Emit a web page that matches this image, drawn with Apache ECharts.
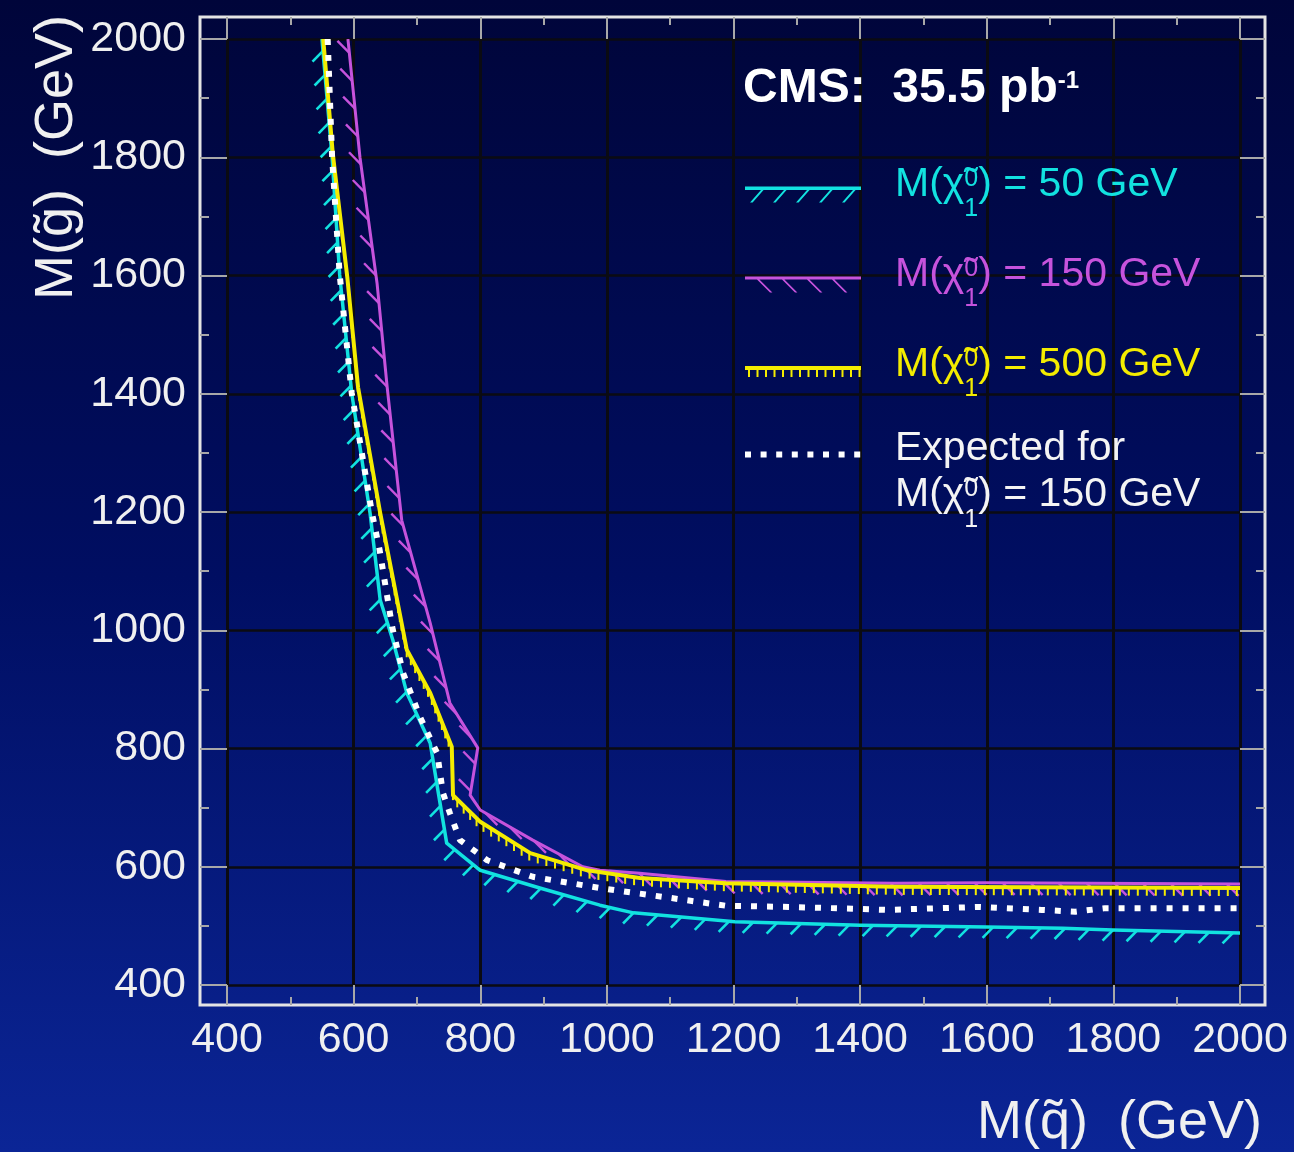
<!DOCTYPE html>
<html>
<head>
<meta charset="utf-8">
<title>CMS 35.5 pb-1 exclusion limits</title>
<script src="https://cdn.jsdelivr.net/npm/echarts@6.0.0/dist/echarts.min.js"></script>
<style>
  html, body { margin: 0; padding: 0; background: #000a4a; }
  #chart { width: 1294px; height: 1152px; }
</style>
</head>
<body>
<div id="chart"></div>
<script>
// observed limit, M(chi) = 50 GeV  (x = M(squark), y = M(gluino), GeV)
var m50X = [550, 566, 578, 597, 626, 642, 662, 684, 721, 733, 747, 800, 894, 989, 1042, 1202, 1401, 1600, 1720, 1799, 2000];
var m50Y = [2000, 1800, 1601, 1401, 1198, 1051, 983, 894, 809, 730, 640, 594, 564, 535, 522, 507, 501, 498, 496, 493, 488];

// observed limit, M(chi) = 150 GeV
var m150X = [591, 610, 637, 653, 676, 721, 752, 796, 784, 800, 883, 962, 989, 1052, 1188, 1454, 1600, 2000];
var m150Y = [2000, 1800, 1587, 1411, 1186, 1012, 877, 801, 721, 696, 645, 600, 594, 589, 575, 572, 573, 571];

// observed limit, M(chi) = 500 GeV
var m500X = [552, 567, 590, 607, 642, 684, 721, 755, 757, 800, 879, 969, 1052, 1188, 1454, 2000];
var m500Y = [2000, 1807, 1597, 1411, 1198, 967, 894, 803, 721, 676, 623, 594, 581, 572, 566, 564];

// expected limit for M(chi) = 150 GeV
var expX = [559, 566, 578, 597, 629, 641, 661, 678, 705, 732, 741, 752, 768, 811, 883, 989, 1089, 1188, 1288, 1388, 1441, 1588, 1687, 1740, 1787, 2000];
var expY = [2000, 1800, 1601, 1401, 1198, 1136, 1005, 928, 853, 792, 725, 691, 645, 611, 583, 564, 549, 534, 532, 529, 527, 532, 527, 524, 530, 530];

var curveNames = ['M(χ̃₁⁰) = 50 GeV', 'M(χ̃₁⁰) = 150 GeV', 'M(χ̃₁⁰) = 500 GeV', 'Expected for M(χ̃₁⁰) = 150 GeV'];
var curveMasses = ['50', '150', '500', '150'];

var axisMin = 400, axisMax = 2000, axisStep = 200;

var FONT = '"Liberation Sans", Arial, Helvetica, sans-serif';
var CYAN = '#12e2e0', MAGENTA = '#c653dc', YELLOW = '#f4ec00', WHITE = '#ffffff';
var TICK = '#a8a8a8', GRIDLINE = '#0b0b12', LABEL = '#f0f0f0';

function zip(xs, ys) {
  return xs.map(function (x, i) { return [x, ys[i]]; });
}

// line plus hatches on the excluded (lower-left) side, in pixel space
function hatchedCurve(name, xs, ys, st) {
  return {
    name: name,
    type: 'custom',
    xAxisIndex: 0,
    yAxisIndex: 0,
    clip: true,
    z: st.z,
    itemStyle: { color: st.color },
    encode: { x: 0, y: 1 },
    data: zip(xs, ys),
    renderItem: function (params, api) {
      if (params.dataIndex !== 0) return null;
      var pts = xs.map(function (x, i) { return api.coord([x, ys[i]]); });
      var kids = [];
      var carry = st.spacing * 0.5;
      for (var i = 0; i < pts.length - 1; i++) {
        var x0 = pts[i][0], y0 = pts[i][1];
        var len = Math.hypot(pts[i + 1][0] - x0, pts[i + 1][1] - y0);
        if (!len) continue;
        var dx = (pts[i + 1][0] - x0) / len, dy = (pts[i + 1][1] - y0) / len;
        var ux = st.dir[0], uy = st.dir[1];
        if (st.flip && ux * -dy + uy * dx < 0) { ux = -ux; uy = -uy; }
        var s = carry;
        while (s < len) {
          var px = x0 + dx * s, py = y0 + dy * s;
          kids.push({
            type: 'line',
            shape: { x1: px, y1: py, x2: px + ux * st.length, y2: py + uy * st.length },
            style: { stroke: st.color, lineWidth: st.hatchWidth }
          });
          s += st.spacing;
        }
        carry = s - len;
      }
      kids.push({
        type: 'polyline',
        shape: { points: pts },
        style: { stroke: st.color, lineWidth: st.width, fill: 'none', lineJoin: 'round' }
      });
      return { type: 'group', children: kids };
    }
  };
}

// legend icon pieces
function rect(x, y, w, h) {
  return 'M' + x + ',' + y + 'L' + (x + w) + ',' + y + 'L' + (x + w) + ',' + (y + h) + 'L' + x + ',' + (y + h) + 'Z';
}
function slant(x, yTop, yBot, dx, w) {
  return 'M' + x + ',' + yTop + 'L' + (x + w) + ',' + yTop + 'L' + (x + w + dx) + ',' + yBot + 'L' + (x + dx) + ',' + yBot + 'Z';
}
function corners(w, h) {
  return rect(0, 0, 0.01, 0.01) + rect(w - 0.01, h - 0.01, 0.01, 0.01);
}

var iconCyan = 'path://' + corners(145, 38) + rect(0, 21, 116, 3.5) +
  [16, 39, 62, 85, 108].map(function (x) { return slant(x, 24.5, 37, -11, 2.6); }).join('');
var iconMagenta = 'path://' + corners(145, 38) + rect(0, 21, 116, 3) +
  [12, 37, 62, 87].map(function (x) { return slant(x, 24, 37, 13, 2.4); }).join('');
var iconYellow = 'path://' + corners(145, 38) + rect(0, 20.5, 116, 4);
for (var tx = 3; tx < 114; tx += 8.5) iconYellow += rect(tx, 24.5, 2, 7);
var iconDots = 'path://' + corners(145, 41);
for (var k = 0; k < 8; k++) iconDots += rect(k * 15.6, 0, 6, 6);

function chiText(mass) {
  return '{t|M(χ\u0303}{sp|0}{sb|1}{t|) = ' + mass + ' GeV}';
}
function legendText(name) {
  var i = curveNames.indexOf(name);
  return (i === 3 ? '{t|Expected for}\n' : '') + chiText(curveMasses[i]);
}
function chiRich(lh) {
  return {
    t: { fontFamily: FONT, fontSize: 41, lineHeight: lh },
    sp: { fontFamily: FONT, fontSize: 25, lineHeight: 20, width: 0, padding: [0, 0, 11, 0] },
    sb: { fontFamily: FONT, fontSize: 25, lineHeight: 20, padding: [50, 0, 0, 0] }
  };
}

function tickAxis(pos, offset, extra) {
  var horiz = pos === 'bottom' || pos === 'top';
  var ax = {
    gridIndex: 0,
    type: 'value',
    position: pos,
    offset: offset,
    min: axisMin,
    max: axisMax,
    interval: axisStep,
    axisLine: { show: false },
    axisTick: { show: true, inside: true, length: offset, lineStyle: { color: TICK, width: 2 } },
    minorTick: { show: true, splitNumber: 2, length: horiz ? 8 : 9, lineStyle: { color: TICK, width: 2 } },
    axisLabel: { show: false },
    splitLine: { show: false },
    minorSplitLine: { show: false }
  };
  return Object.assign(ax, extra || {});
}

function plainNumber(v) { return String(v); }

var chart = echarts.init(document.getElementById('chart'));

var option = {
  animation: false,
  backgroundColor: {
    type: 'linear', x: 0, y: 0, x2: 0, y2: 1,
    colorStops: [
      { offset: 0, color: '#00053a' },
      { offset: 0.5, color: '#000e62' },
      { offset: 1, color: '#0b2596' }
    ]
  },
  textStyle: { fontFamily: FONT },
  title: {
    text: '{b|CMS:  35.5 pb}{s|-1}',
    left: 743,
    top: 63,
    padding: 0,
    textStyle: {
      color: WHITE,
      rich: {
        b: { fontFamily: FONT, fontSize: 48, fontWeight: 'bold', lineHeight: 52, color: WHITE },
        s: { fontFamily: FONT, fontSize: 24, fontWeight: 'bold', lineHeight: 20, padding: [0, 0, 15, 0], color: WHITE }
      }
    }
  },
  legend: [
    {
      data: [
        { name: curveNames[0], icon: iconCyan, itemStyle: { color: CYAN, borderWidth: 0 }, textStyle: { color: CYAN } },
        { name: curveNames[1], icon: iconMagenta, itemStyle: { color: MAGENTA, borderWidth: 0 }, textStyle: { color: MAGENTA } },
        { name: curveNames[2], icon: iconYellow, itemStyle: { color: YELLOW, borderWidth: 0 }, textStyle: { color: YELLOW } }
      ],
      orient: 'vertical',
      left: 745,
      top: 147,
      padding: 0,
      itemGap: 15,
      itemWidth: 145,
      itemHeight: 38,
      selectedMode: false,
      formatter: legendText,
      textStyle: { fontFamily: FONT, fontSize: 41, lineHeight: 48, rich: chiRich(48) }
    },
    {
      data: [
        { name: curveNames[3], icon: iconDots, itemStyle: { color: WHITE, borderWidth: 0 }, textStyle: { color: '#f4f4f4' } }
      ],
      orient: 'vertical',
      left: 745,
      top: 426,
      padding: 0,
      itemWidth: 145,
      itemHeight: 41,
      selectedMode: false,
      formatter: legendText,
      textStyle: { fontFamily: FONT, fontSize: 41, lineHeight: 46, rich: chiRich(46) }
    }
  ],
  grid: [
    { left: 227, right: 54, top: 39, bottom: 167, outerBoundsMode: 'none' },
    { left: 200, right: 29, top: 17, bottom: 147, show: true, borderColor: '#e4e4e4', borderWidth: 3,
      backgroundColor: 'transparent', outerBoundsMode: 'none' }
  ],
  xAxis: [
    tickAxis('bottom', 20, {
      axisLabel: { show: true, color: LABEL, fontSize: 43, margin: 14, fontFamily: FONT, formatter: plainNumber },
      splitLine: { show: true, lineStyle: { color: GRIDLINE, width: 3 } },
      name: 'M(q\u0303)  (GeV)',
      nameLocation: 'end',
      nameGap: 22,
      nameMoveOverlap: false,
      nameTextStyle: { color: LABEL, fontSize: 54, fontFamily: FONT, align: 'right', verticalAlign: 'top', padding: [91, 0, 0, 0] }
    }),
    tickAxis('top', 22),
    { gridIndex: 1, type: 'value', show: false, min: 0, max: 1 }
  ],
  yAxis: [
    tickAxis('left', 27, {
      axisLabel: { show: true, color: LABEL, fontSize: 43, margin: 14, fontFamily: FONT, formatter: plainNumber },
      splitLine: { show: true, lineStyle: { color: GRIDLINE, width: 2.5 } },
      name: 'M(g\u0303)  (GeV)',
      nameLocation: 'end',
      nameGap: 24,
      nameRotate: 90,
      nameMoveOverlap: false,
      nameTextStyle: { color: LABEL, fontSize: 54, fontFamily: FONT, align: 'right', verticalAlign: 'bottom', padding: [0, 0, 116, 0] }
    }),
    tickAxis('right', 25),
    { gridIndex: 1, type: 'value', show: false, min: 0, max: 1 }
  ],
  series: [
    hatchedCurve(curveNames[1], m150X, m150Y, {
      color: MAGENTA, width: 3, hatchWidth: 2.4, spacing: 28, length: 17, dir: [0.7, 0.71], flip: true, z: 2
    }),
    hatchedCurve(curveNames[0], m50X, m50Y, {
      color: CYAN, width: 3.5, hatchWidth: 2.6, spacing: 24, length: 15, dir: [-0.7, 0.71], flip: true, z: 3
    }),
    hatchedCurve(curveNames[2], m500X, m500Y, {
      color: YELLOW, width: 4, hatchWidth: 2, spacing: 9, length: 8, dir: [0, 1], flip: false, z: 4
    }),
    {
      name: curveNames[3],
      type: 'line',
      xAxisIndex: 0,
      yAxisIndex: 0,
      z: 5,
      data: zip(expX, expY),
      symbol: 'none',
      itemStyle: { color: WHITE },
      lineStyle: { color: WHITE, width: 6, type: [6, 10], cap: 'butt' }
    }
  ]
};

chart.setOption(option);
</script>
</body>
</html>
